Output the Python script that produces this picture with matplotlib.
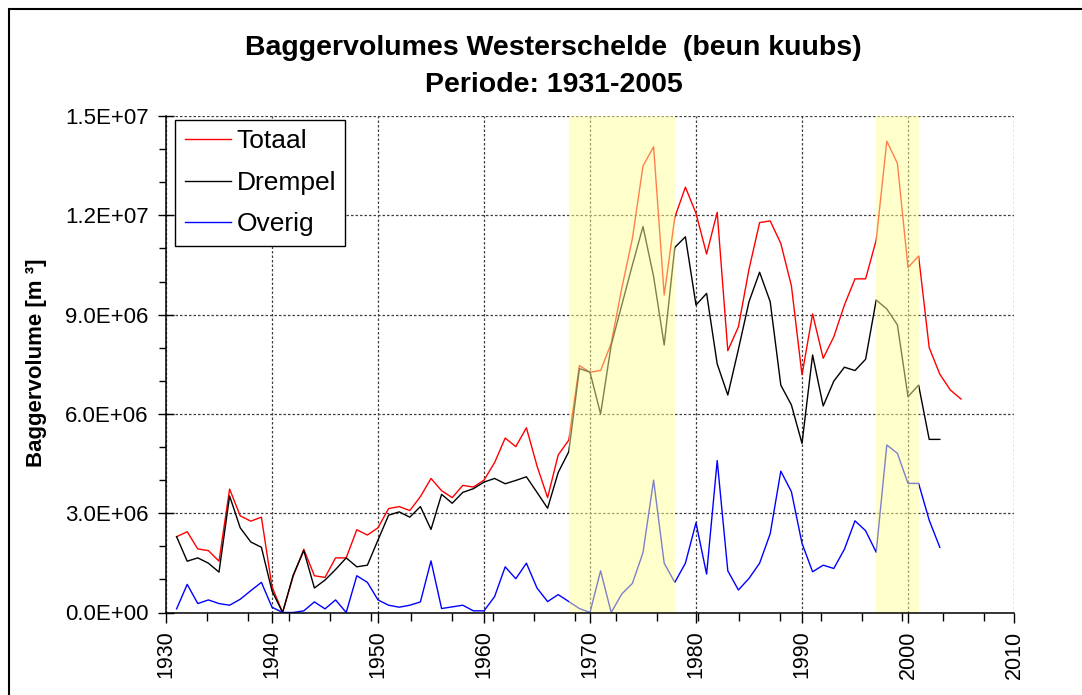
import numpy as np
import matplotlib
matplotlib.use("Agg")
import matplotlib.pyplot as plt
from matplotlib.ticker import MultipleLocator, FixedLocator, FuncFormatter
from matplotlib.patches import Rectangle

plt.rcParams['font.family'] = ['Liberation Sans', 'DejaVu Sans']

years = list(range(1931, 2006))

totaal = [2.29, 2.44, 1.92, 1.87, 1.55, 3.73, 2.92, 2.76, 2.88, 0.78,
          0.00, 1.10, 1.91, 1.11, 1.06, 1.65, 1.65, 2.50, 2.34, 2.56,
          3.14, 3.20, 3.08, 3.50, 4.05, 3.68, 3.47, 3.84, 3.79, 4.00,
          4.53, 5.27, 5.01, 5.58, 4.43, 3.47, 4.76, 5.21, 7.46, 7.26,
          7.31, 8.13, 9.80, 11.30, 13.49, 14.07, 9.59, 11.94, 12.85, 12.06,
          10.83, 12.09, 7.91, 8.63, 10.37, 11.78, 11.83, 11.15, 9.87, 7.18,
          9.02, 7.68, 8.33, 9.29, 10.08, 10.08, 11.25, 14.24, 13.57, 10.42,
          10.77, 8.00, 7.20, 6.72, 6.45]

drempel = [2.29, 1.55, 1.65, 1.49, 1.22, 3.52, 2.56, 2.13, 1.97, 0.65,
           0.00, 1.13, 1.87, 0.74, 0.98, 1.30, 1.65, 1.38, 1.43, 2.19,
           2.94, 3.04, 2.88, 3.20, 2.51, 3.57, 3.30, 3.63, 3.74, 3.94,
           4.05, 3.89, 3.99, 4.10, 3.63, 3.15, 4.23, 4.86, 7.37, 7.26,
           6.00, 8.08, 9.29, 10.50, 11.66, 10.15, 8.08, 11.03, 11.35, 9.29,
           9.64, 7.51, 6.57, 7.95, 9.39, 10.28, 9.39, 6.87, 6.27, 5.11,
           7.78, 6.24, 6.99, 7.41, 7.31, 7.65, 9.44, 9.17, 8.69, 6.52,
           6.87, 5.23, 5.23, np.nan, np.nan]

overig = [0.11, 0.85, 0.27, 0.38, 0.27, 0.22, 0.40, 0.66, 0.91, 0.16,
          0.00, 0.00, 0.05, 0.32, 0.11, 0.38, 0.00, 1.11, 0.91, 0.38,
          0.22, 0.16, 0.22, 0.32, 1.56, 0.12, 0.17, 0.22, 0.05, 0.05,
          0.48, 1.38, 1.02, 1.49, 0.74, 0.33, 0.54, 0.33, 0.12, 0.00,
          1.26, 0.00, 0.56, 0.88, 1.81, 4.00, 1.49, 0.91, 1.49, 2.71,
          1.16, 4.59, 1.26, 0.68, 1.03, 1.49, 2.38, 4.27, 3.65, 2.09,
          1.23, 1.43, 1.33, 1.91, 2.77, 2.47, 1.82, 5.06, 4.81, 3.90,
          3.90, 2.79, 1.97, np.nan, np.nan]

shaded_periods = [(1968, 1978), (1997, 2001)]

series_names = ['Totaal', 'Drempel', 'Overig']
series_colors = ['#FF0000', '#000000', '#0000FF']

title1 = 'Baggervolumes Westerschelde  (beun kuubs)'
title2 = 'Periode: 1931-2005'
ylabel = 'Baggervolume [m ³]'

W, H = 1082, 695
fig = plt.figure(figsize=(W / 100, H / 100), dpi=100)
ax = fig.add_axes([166 / W, 1 - 612.5 / H, (1014 - 166) / W, (612.5 - 116) / H])

scale = 1e6
for vals, name, col in zip([totaal, drempel, overig], series_names, series_colors):
    ax.plot(years, np.array(vals, dtype=float) * scale, color=col, lw=1.0,
            label=name, zorder=2)

for a, b in shaded_periods:
    ax.axvspan(a, b, facecolor='#FFFF99', alpha=0.5, lw=0, zorder=3)

ax.set_xlim(1930, 2010)
ax.set_ylim(0, 1.5e7)

ax.xaxis.set_major_locator(MultipleLocator(10))
ax.xaxis.set_minor_locator(FixedLocator(np.arange(1930, 2010, 3.86)[1:]))
ax.yaxis.set_major_locator(MultipleLocator(3e6))
ax.yaxis.set_minor_locator(MultipleLocator(1e6))
ax.yaxis.set_major_formatter(FuncFormatter(lambda v, p: '{:.1E}'.format(v)))

ax.grid(True, which='major', linestyle=(0, (2, 1.6)), color='#404040', lw=0.9, zorder=1)

for s in ['top', 'right']:
    ax.spines[s].set_visible(False)
for s in ['left', 'bottom']:
    ax.spines[s].set_linewidth(1.1)
    ax.spines[s].set_zorder(4)

ax.tick_params(axis='y', which='major', direction='inout', length=11, width=1,
               labelsize=16, pad=7)
ax.tick_params(axis='y', which='minor', direction='out', length=5, width=1)
ax.tick_params(axis='x', which='major', direction='out', length=7, width=1,
               labelsize=15.5, pad=6, labelrotation=90)
ax.tick_params(axis='x', which='minor', direction='out', length=6, width=1)

leg = ax.legend(loc='upper left', bbox_to_anchor=(9 / 848, 1 - 4 / 496.5),
                borderaxespad=0, fontsize=19, frameon=True, fancybox=False,
                shadow=False, framealpha=1, edgecolor='black',
                handlelength=1.75, handletextpad=0.22, labelspacing=0.66,
                borderpad=0.36)
leg.get_frame().set_linewidth(1.0)
leg.set_zorder(5)

fig.text(553 / W, 1 - 48 / H, title1, ha='center', va='center',
         fontsize=20.5, fontweight='bold')
fig.text(554 / W, 1 - 85 / H, title2, ha='center', va='center',
         fontsize=20.5, fontweight='bold')
fig.text(37 / W, 1 - 363 / H, ylabel, ha='center', va='center', rotation=90,
         fontsize=16, fontweight='bold')

fig.patches.append(Rectangle((9 / W, -0.1), 2, (1 - 9 / H) + 0.1,
                             transform=fig.transFigure, fill=False,
                             ec='black', lw=1.5))

fig.savefig('out.png', dpi=100)
